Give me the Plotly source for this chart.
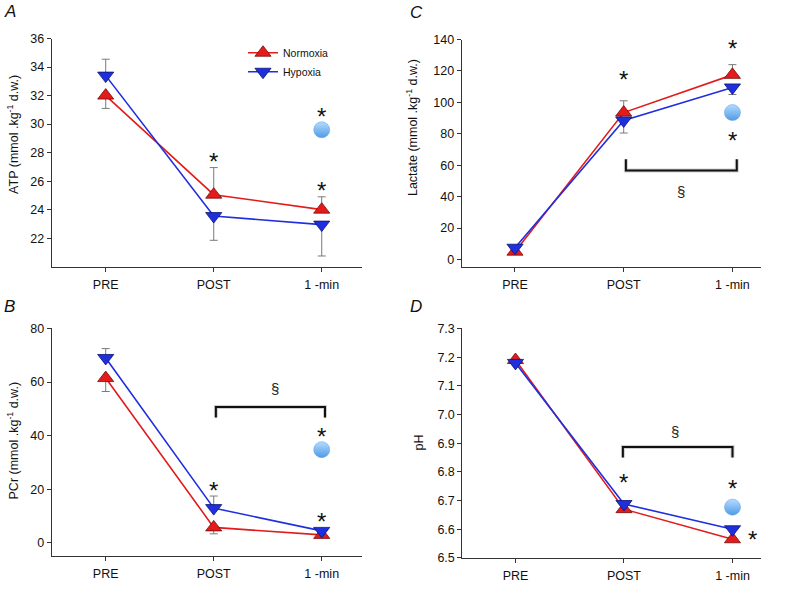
import plotly.graph_objects as go

# data
stages = ["PRE", "POST", "1 -min"]

atp_norm = [32.0, 25.05, 24.0]
atp_norm_up = [0, 1.9, 0.9]
atp_norm_down = [0.9, 0, 0]
atp_hyp = [33.4, 23.55, 22.95]
atp_hyp_up = [1.15, 0, 0]
atp_hyp_down = [0, 1.7, 2.2]
atp_circle = 29.6

lac_norm = [5.0, 93.5, 117.5]
lac_norm_up = [0, 7.5, 6.5]
lac_hyp = [7.5, 88.5, 109.5]
lac_hyp_down = [0, 8.0, 4.5]
lac_circle = 93.5

pcr_norm = [61.5, 5.8, 3.0]
pcr_norm_down = [5.0, 2.4, 0]
pcr_hyp = [69.0, 13.0, 4.5]
pcr_hyp_up = [3.5, 4.5, 0]
pcr_circle = 34.8

ph_norm = [7.19, 6.67, 6.565]
ph_hyp = [7.18, 6.688, 6.60]
ph_circle = 6.677

# significance marks (x as category position, y in data units)
atp_stars = [(1, 27.7), (2, 25.7), (2, 30.9)]
lac_stars = [(1, 118), (2, 137.5), (2, 79)]
pcr_stars = [(1, 21.6), (2, 9.7), (2, 41.6)]
ph_stars = [(1, 6.78), (2, 6.76), (2.18, 6.58)]

lac_bracket = ([1.02, 1.02, 2.04, 2.04], [63.8, 56.6, 56.6, 63.8])
pcr_bracket = ([1.02, 1.02, 2.03, 2.03], [46.8, 50.7, 50.7, 46.8])
ph_bracket = ([0.99, 0.99, 2.0, 2.0], [6.85, 6.887, 6.887, 6.85])
lac_sect = (1.53, 43.5)
pcr_sect = (1.57, 57.6)
ph_sect = (1.47, 6.94)

RED = "#e31b1b"
BLUE = "#1f2fe0"
FONT = "Liberation Sans, Arial, sans-serif"
W, H = 788, 590
xpos = list(range(len(stages)))

fig = go.Figure()

panels = [
    # axis suffix, norm, norm err, hyp, hyp err, circle, stars, bracket, sect
    ("", atp_norm, (atp_norm_up, atp_norm_down), atp_hyp, (atp_hyp_up, atp_hyp_down), atp_circle, atp_stars, None, None),
    ("2", lac_norm, (lac_norm_up, [0, 0, 0]), lac_hyp, ([0, 0, 0], lac_hyp_down), lac_circle, lac_stars, lac_bracket, lac_sect),
    ("3", pcr_norm, ([0, 0, 0], pcr_norm_down), pcr_hyp, (pcr_hyp_up, [0, 0, 0]), pcr_circle, pcr_stars, pcr_bracket, pcr_sect),
    ("4", ph_norm, None, ph_hyp, None, ph_circle, ph_stars, ph_bracket, ph_sect),
]

for i, (s, nv, ne, hv, he, circ, stars, br, sect) in enumerate(panels):
    xa, ya = "x" + s, "y" + s
    if br is not None:
        fig.add_trace(go.Scatter(x=br[0], y=br[1], mode="lines", line=dict(color="#cfcfcf", width=4),
                                 xaxis=xa, yaxis=ya, showlegend=False, hoverinfo="skip"))
        fig.add_trace(go.Scatter(x=br[0], y=br[1], mode="lines", line=dict(color="#111", width=2),
                                 xaxis=xa, yaxis=ya, showlegend=False, hoverinfo="skip"))
    for name, vals, err, col, sym, edge in [("Normoxia", nv, ne, RED, "triangle-up", "#7a0a0a"),
                                            ("Hypoxia", hv, he, BLUE, "triangle-down", "#0a1470")]:
        ey = None
        if err is not None:
            ey = dict(type="data", symmetric=False, array=err[0], arrayminus=err[1],
                      color="#7a7a7a", thickness=1, width=4)
        fig.add_trace(go.Scatter(
            x=xpos, y=vals, name=name, mode="lines+markers", error_y=ey,
            line=dict(color=col, width=1.6),
            marker=dict(symbol=sym, size=14, color=col, line=dict(color=edge, width=0.8)),
            xaxis=xa, yaxis=ya, showlegend=(i == 0)))
    fig.add_trace(go.Scatter(
        x=[xpos[2]], y=[circ], mode="markers", showlegend=False, xaxis=xa, yaxis=ya,
        marker=dict(size=16, color="#b4dcff", gradient=dict(type="vertical", color="#4f9be6"),
                    line=dict(color="#5c9fe0", width=0.5))))
    for sx, sy in stars:
        fig.add_annotation(x=sx, y=sy, xref=xa, yref=ya, text="*", showarrow=False,
                           font=dict(size=24, color="#111", family=FONT), yshift=-5)
    if sect is not None:
        fig.add_annotation(x=sect[0], y=sect[1], xref=xa, yref=ya, text="§", showarrow=False,
                           font=dict(size=15, color="#222", family=FONT))

axis_common = dict(showline=True, linecolor="#333", linewidth=1, ticks="outside", ticklen=4,
                   tickcolor="#333", showgrid=False, zeroline=False,
                   tickfont=dict(size=12.5, color="#111", family=FONT))
xaxis_common = dict(axis_common, tickvals=xpos, ticktext=stages, ticklabelstandoff=2)

def px_x(a, b):
    return [a / W, b / W]

def px_y(top, bottom):
    return [1 - bottom / H, 1 - top / H]

fig.update_layout(
    xaxis=dict(xaxis_common, domain=px_x(51.7, 361.7), range=[-0.5, 2.37], anchor="y"),
    yaxis=dict(axis_common, domain=px_y(32.3, 266), range=[20, 36], tickvals=list(range(22, 37, 2)), anchor="x"),
    xaxis2=dict(xaxis_common, domain=px_x(461.7, 760.7), range=[-0.49, 2.26], anchor="y2"),
    yaxis2=dict(axis_common, domain=px_y(33.3, 266.7), range=[-5, 140], tickvals=list(range(0, 141, 20)), anchor="x2"),
    xaxis3=dict(xaxis_common, domain=px_x(51.7, 361.7), range=[-0.5, 2.37], anchor="y3"),
    yaxis3=dict(axis_common, domain=px_y(329.3, 562.7), range=[-5, 80], tickvals=list(range(0, 81, 20)), anchor="x3"),
    xaxis4=dict(xaxis_common, domain=px_x(462.3, 760.7), range=[-0.49, 2.26], anchor="y4"),
    yaxis4=dict(axis_common, domain=px_y(329.3, 564.3), range=[6.5, 7.3],
                tickvals=[6.5, 6.6, 6.7, 6.8, 6.9, 7.0, 7.1, 7.2, 7.3], tickformat=".1f", anchor="x4"),
)

# panel letters and y titles
letters = [("A", 2, 5), ("C", 408, 6), ("B", 2, 307), ("D", 408, 307)]
for t, x, y in letters:
    fig.add_annotation(x=x / W, y=1 - y / H, xref="paper", yref="paper", text="<i>%s</i>" % t,
                       showarrow=False, xanchor="left", yanchor="middle",
                       font=dict(size=17, color="#111", family=FONT))

ytitles = [("ATP (mmol .kg<sup>-1</sup> d.w.)", 13, 131), ("Lactate (mmol .kg<sup>-1</sup> d.w.)", 412, 124),
           ("PCr (mmol .kg<sup>-1</sup> d.w.)", 13, 444), ("pH", 419, 446)]
for t, x, y in ytitles:
    fig.add_annotation(x=x / W, y=1 - y / H, xref="paper", yref="paper", text=t, textangle=-90,
                       showarrow=False, xanchor="center", yanchor="middle",
                       font=dict(size=12.5, color="#111", family=FONT))

fig.update_layout(
    width=W, height=H, margin=dict(l=0, r=0, t=0, b=0),
    paper_bgcolor="white", plot_bgcolor="white",
    font=dict(family=FONT),
    legend=dict(x=243 / W, y=1 - 32 / H, xanchor="left", yanchor="top", bgcolor="rgba(0,0,0,0)",
                font=dict(size=10.5, color="#111", family=FONT), tracegroupgap=0, itemwidth=30),
)

fig.write_html("out.html", config={"displayModeBar": False},
               post_script="document.body.style.margin='0';")
